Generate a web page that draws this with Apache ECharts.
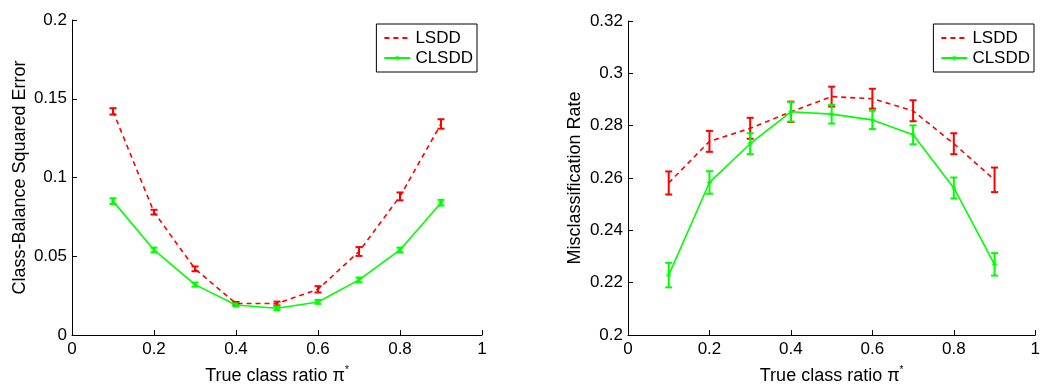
<!DOCTYPE html>
<html><head><meta charset="utf-8">
<script src="https://cdn.jsdelivr.net/npm/echarts@6/dist/echarts.min.js"></script>
<style>html,body{margin:0;padding:0;background:#fff}#c{width:1043px;height:390px}</style>
</head><body><div id="c"></div>
<script>
const ratios = [0.1,0.2,0.3,0.4,0.5,0.6,0.7,0.8,0.9];
const xTicks = [0,0.2,0.4,0.6,0.8,1];
const leftYTicks = [0,0.05,0.1,0.15,0.2];
const rightYTicks = [0.2,0.22,0.24,0.26,0.28,0.3,0.32];
// Left: Class-Balance Squared Error
const lsddCbse    = [0.142,0.078,0.042,0.020,0.020,0.029,0.053,0.088,0.134];
const lsddCbseErr = [0.0020,0.0015,0.0015,0.0010,0.0012,0.0020,0.0028,0.0025,0.0030];
const clsddCbse    = [0.085,0.054,0.032,0.019,0.017,0.021,0.035,0.054,0.084];
const clsddCbseErr = [0.0018,0.0015,0.0013,0.0010,0.0012,0.0012,0.0015,0.0015,0.0018];
// Right: Misclassification Rate
const lsddMis    = [0.2581,0.2740,0.2790,0.2853,0.2911,0.2903,0.2857,0.2731,0.2593];
const lsddMisErr = [0.0044,0.0040,0.0040,0.0039,0.0038,0.0038,0.0040,0.0040,0.0047];
const clsddMis    = [0.2229,0.2583,0.2731,0.2853,0.2844,0.2822,0.2765,0.2562,0.2270];
const clsddMisErr = [0.0047,0.0043,0.0040,0.0037,0.0036,0.0035,0.0036,0.0040,0.0043];

const RED = '#ff0000', GREEN = '#00ff00';
const FONT = 'Liberation Sans, Arial, sans-serif';
const FS = 17, TFS = 18;
const star = 'path://M0,5L10,5M5,0L5,10M1.5,1.5L8.5,8.5M8.5,1.5L1.5,8.5';

function pairs(ys){ return ratios.map((x,i)=>[x,ys[i]]); }
function errData(ys, es){ return ratios.map((x,i)=>[x, ys[i]-es[i], ys[i]+es[i]]); }
function errSeries(name, ys, es, color, idx){
  return {
    type:'custom', name: name + '_err', xAxisIndex: idx, yAxisIndex: idx,
    data: errData(ys, es), z: 3, silent: true,
    encode: {x:0, y:[1,2]},
    renderItem: function(params, api){
      const x = api.value(0);
      const lo = api.coord([x, api.value(1)]);
      const hi = api.coord([x, api.value(2)]);
      const w = 3.5;
      const st = {stroke: color, lineWidth: 2, fill: null};
      return {type:'group', children:[
        {type:'line', shape:{x1:lo[0],y1:lo[1],x2:hi[0],y2:hi[1]}, style:st},
        {type:'line', shape:{x1:lo[0]-w,y1:lo[1],x2:lo[0]+w,y2:lo[1]}, style:st},
        {type:'line', shape:{x1:hi[0]-w,y1:hi[1],x2:hi[0]+w,y2:hi[1]}, style:st}
      ]};
    }
  };
}
function xAxis(idx){
  return {
    type:'value', gridIndex: idx, min:0, max:1, interval:0.2,
    name: 'True class ratio π{sup|*}', nameLocation:'middle', nameGap: 30,
    nameTextStyle:{color:'#000', fontSize:TFS, fontFamily:FONT,
      rich:{sup:{fontSize:10, verticalAlign:'top', padding:[0,0,12,0], color:'#000', fontFamily:FONT}}},
    axisLine:{show:true, onZero:false, lineStyle:{color:'#000', width:1}},
    axisTick:{show:true, inside:true, length:5, lineStyle:{color:'#000'}},
    axisLabel:{color:'#000', fontSize:FS, fontFamily:FONT, margin:6,
      formatter: v => String(+v.toFixed(2))},
    splitLine:{show:false}
  };
}
function yAxis(idx, min, max, interval, name, gap){
  return {
    type:'value', gridIndex: idx, min:min, max:max, interval:interval,
    name: name, nameLocation:'middle', nameGap: gap, nameRotate: 90,
    nameTextStyle:{color:'#000', fontSize:TFS, fontFamily:FONT},
    axisLine:{show:true, onZero:false, lineStyle:{color:'#000', width:1}},
    axisTick:{show:true, inside:true, length:5, lineStyle:{color:'#000'}},
    axisLabel:{color:'#000', fontSize:FS, fontFamily:FONT, margin:5,
      formatter: v => String(+v.toFixed(3))},
    splitLine:{show:false}
  };
}
function legend(idx, right){
  const sfx = idx===0 ? '' : ' ';
  return {
    show:true, orient:'vertical', right: right, top: 24,
    data: [
      {name: 'LSDD'+sfx, itemStyle:{opacity:0}},
      {name: 'CLSDD'+sfx, itemStyle:{color:'transparent', borderColor:GREEN, borderWidth:1}}
    ],
    borderColor:'#000', borderWidth:1, padding:[5,4,5,7], itemGap:2,
    itemWidth: 26, itemHeight: 6,
    textStyle:{color:'#000', fontSize:FS, fontFamily:FONT, lineHeight:18},
    formatter: n => n.trim()
  };
}
const option = {
  animation:false,
  backgroundColor:'#fff',
  grid:[
    {left:72, top:20, width:410, height:319, containLabel:false},
    {left:628, top:21, width:410, height:318, containLabel:false}
  ],
  xAxis:[xAxis(0), xAxis(1)],
  yAxis:[
    yAxis(0, 0, 0.2, 0.05, 'Class-Balance Squared Error', 43),
    yAxis(1, 0.2, 0.32, 0.02, 'Misclassification Rate', 44)
  ],
  legend:[legend(0, 566), legend(1, 9)],
  series:[
    {type:'line', name:'LSDD', xAxisIndex:0, yAxisIndex:0, data:pairs(lsddCbse),
     showSymbol:false, symbol:'none', lineStyle:{color:RED, width:1.6, type:[5,4]}, itemStyle:{color:RED}, z:4},
    {type:'line', name:'CLSDD', xAxisIndex:0, yAxisIndex:0, data:pairs(clsddCbse),
     symbol:star, symbolSize:5, lineStyle:{color:GREEN, width:1.6},
     itemStyle:{color:GREEN, borderColor:GREEN, borderWidth:1}, z:4},
    errSeries('LSDD', lsddCbse, lsddCbseErr, RED, 0),
    errSeries('CLSDD', clsddCbse, clsddCbseErr, GREEN, 0),
    {type:'line', name:'LSDD ', xAxisIndex:1, yAxisIndex:1, data:pairs(lsddMis),
     showSymbol:false, symbol:'none', lineStyle:{color:RED, width:1.6, type:[5,4]}, itemStyle:{color:RED}, z:4},
    {type:'line', name:'CLSDD ', xAxisIndex:1, yAxisIndex:1, data:pairs(clsddMis),
     symbol:star, symbolSize:5, lineStyle:{color:GREEN, width:1.6},
     itemStyle:{color:GREEN, borderColor:GREEN, borderWidth:1}, z:4},
    errSeries('LSDD ', lsddMis, lsddMisErr, RED, 1),
    errSeries('CLSDD ', clsddMis, clsddMisErr, GREEN, 1)
  ]
};
const chart = echarts.init(document.getElementById('c'), null, {renderer:'canvas'});
chart.setOption(option);
</script></body></html>
